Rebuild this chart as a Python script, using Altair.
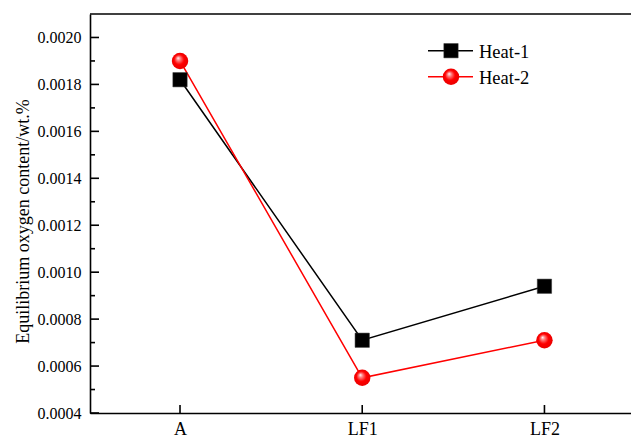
import altair as alt
import pandas as pd

categories = ["A", "LF1", "LF2"]
series = ["Heat-1", "Heat-2"]
heat1 = [0.00182, 0.00071, 0.00094]
heat2 = [0.00190, 0.00055, 0.00071]
y_major = [0.0004, 0.0006, 0.0008, 0.0010, 0.0012, 0.0014, 0.0016, 0.0018, 0.0020]
y_minor = [0.0005, 0.0007, 0.0009, 0.0011, 0.0013, 0.0015, 0.0017, 0.0019]
colors = ["#000000", "#ff0000"]

W, H = 541, 399
FONT = "Liberation Serif"

rows = []
for s, vals in zip(series, [heat1, heat2]):
    for i, v in enumerate(vals):
        rows.append({"idx": i, "cat": categories[i], "value": v, "series": s})
df = pd.DataFrame(rows)

label_expr = "[" + ",".join("'%s'" % c for c in categories) + "][datum.value]"

xs = alt.Scale(domain=[-0.494, 2.475], nice=False, zero=False)
ys = alt.Scale(domain=[0.0004, 0.0021], nice=False, zero=False)

X = alt.X("idx:Q", scale=xs, axis=alt.Axis(
    values=list(range(len(categories))), labelExpr=label_expr, title=None,
    ticks=False, grid=False, domainColor="black", domainWidth=1.6,
    labelFont=FONT, labelFontSize=18, labelColor="black", labelPadding=7))
Y = alt.Y("value:Q", scale=ys, axis=alt.Axis(
    values=y_major, format=".4f", title="Equilibrium oxygen content/wt.%",
    ticks=False, grid=False, domainColor="black", domainWidth=1.6,
    labelFont=FONT, labelFontSize=16, labelColor="black", labelPadding=9,
    titleFont=FONT, titleFontSize=18, titleFontWeight="normal", titleColor="black",
    titleX=-62, titleY=207, titleAngle=270, titleAlign="center", titleBaseline="alphabetic"))

color = alt.Color("series:N", scale=alt.Scale(domain=series, range=colors), legend=None)

base = alt.Chart(df)
lines = base.mark_line(strokeWidth=1.5).encode(x=X, y=Y, color=color, detail="series:N")

grad = alt.RadialGradient(
    gradient="radial", x1=0.38, y1=0.32, r1=0.0, x2=0.5, y2=0.5, r2=0.55,
    stops=[alt.GradientStop(color="#ffffff", offset=0.0),
           alt.GradientStop(color="#ff8080", offset=0.22),
           alt.GradientStop(color="#ff0000", offset=0.55),
           alt.GradientStop(color="#e60000", offset=1.0)])

sq = base.transform_filter(alt.datum.series == series[0]).mark_point(
    shape="square", filled=True, fill="black", stroke="#333333", strokeWidth=0.5,
    size=205, opacity=1).encode(x="idx:Q", y="value:Q")
ci = base.transform_filter(alt.datum.series == series[1]).mark_point(
    shape="circle", filled=True, fill=grad, strokeWidth=0, size=270,
    opacity=1).encode(x="idx:Q", y="value:Q")

tick_major = alt.Chart(pd.DataFrame({"v": y_major})).mark_rule(
    color="black", strokeWidth=1.6).encode(
    y=alt.Y("v:Q", scale=ys), x=alt.value(0), x2=alt.value(9))
tick_minor = alt.Chart(pd.DataFrame({"v": y_minor})).mark_rule(
    color="black", strokeWidth=1.6).encode(
    y=alt.Y("v:Q", scale=ys), x=alt.value(0), x2=alt.value(5))
tick_x = alt.Chart(pd.DataFrame({"i": list(range(len(categories)))})).mark_rule(
    color="black", strokeWidth=1.6).encode(
    x=alt.X("i:Q", scale=xs), y=alt.value(H - 8), y2=alt.value(H))

top = alt.Chart(pd.DataFrame({"a": [0]})).mark_rule(color="black", strokeWidth=1.6).encode(
    x=alt.value(0), x2=alt.value(W), y=alt.value(0))

# custom legend
leg = pd.DataFrame({"series": series, "ly": [36.7, 62.7]})
leg_line = alt.Chart(leg).mark_rule(strokeWidth=1.5).encode(
    x=alt.value(338), x2=alt.value(383), y=alt.Y("ly:Q", scale=None), color=color)
leg_sq = alt.Chart(leg).transform_filter(alt.datum.series == series[0]).mark_point(
    shape="square", filled=True, fill="black", stroke="#333333", strokeWidth=0.5,
    size=205, opacity=1).encode(x=alt.value(361), y=alt.Y("ly:Q", scale=None))
leg_ci = alt.Chart(leg).transform_filter(alt.datum.series == series[1]).mark_point(
    shape="circle", filled=True, fill=grad, strokeWidth=0, size=270,
    opacity=1).encode(x=alt.value(361), y=alt.Y("ly:Q", scale=None))
leg_txt = alt.Chart(leg).mark_text(
    align="left", baseline="middle", font=FONT, fontSize=18.5, color="black", dy=1).encode(
    x=alt.value(389), y=alt.Y("ly:Q", scale=None), text="series:N")

chart = alt.layer(
    tick_major, tick_minor, tick_x, top, lines, sq, ci,
    leg_line, leg_sq, leg_ci, leg_txt
).properties(
    width=W, height=H,
    autosize=alt.AutoSizeParams(type="none"),
    padding={"left": 90, "top": 14, "right": 0, "bottom": 25},
    background="white",
).configure_view(stroke=None)

chart.save("out.html", embed_options={"renderer": "svg", "actions": False})
